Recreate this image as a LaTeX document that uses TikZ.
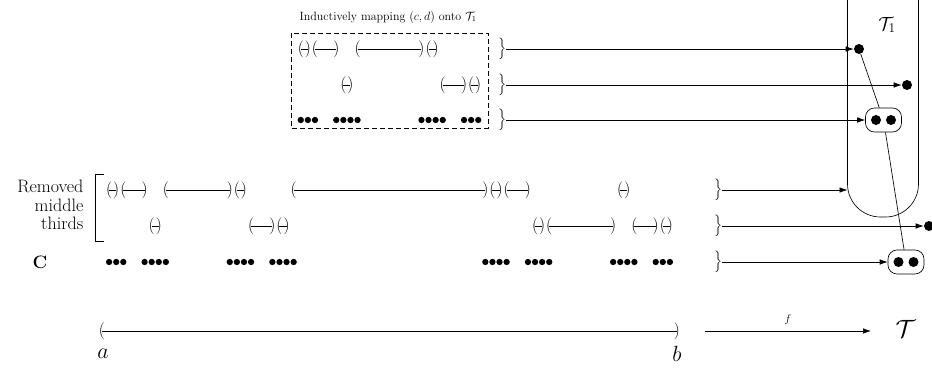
\RequirePackage{fix-cm}
\documentclass[tikz,border=0pt]{standalone}
\usepackage{amsmath}
\usetikzlibrary{arrows.meta}
\newcommand\ivl[3]{\draw (#1,#3) node[par]{(} -- (#2,#3) node[par]{)};}
\begin{document}
\begin{tikzpicture}[x=1pt,y=-1pt, line width=0.65pt,
  par/.style={inner sep=0pt, font=\fontsize{17}{19}\selectfont},
  cdot/.style={circle, fill=black, inner sep=0pt, minimum size=6.3pt},
  bigdot/.style={circle, fill=black, inner sep=0pt, minimum size=10pt},
  pairbox/.style={draw, rounded corners=9pt, minimum width=36pt, minimum height=24pt, inner sep=0pt},
  brace/.style={inner sep=0pt, font=\fontsize{12.5}{14}\selectfont},
  arr/.style={-{Latex[length=8pt,width=5.5pt]}},
  lbl/.style={font=\fontsize{18}{18.5}\selectfont}]
\useasboundingbox (0,0) rectangle (932,372);

% ---------- main Cantor rows ----------
\begin{scope}[xshift=102pt, x=7.0988pt]
  \foreach \p/\q in {1/2,3/6,9/18,19/20,27/54,55/56,57/60,73/74} {\ivl{\p}{\q}{190}}
  \foreach \p/\q in {7/8,21/24,25/26,61/62,63/72,75/78,79/80} {\ivl{\p}{\q}{226}}
  \foreach \k in {1,2,3,6,7,8,9,18,19,20,21,24,25,26,27,54,55,56,57,60,61,62,63,72,73,74,75,78,79,80}
    {\node[cdot] at (\k,262) {};}
\end{scope}

% ---------- inductive copy ----------
\node[font=\fontsize{12}{14}\selectfont, anchor=west] (title) at (296,17) {Inductively mapping $(c,d)$ onto $\mathcal{T}_1$};
\draw[dash pattern=on 5pt off 3pt, line width=0.75pt] (291,33) rectangle (488,128);
\begin{scope}[xshift=293.67pt, x=7.0988pt]
  \foreach \p/\q in {1/2,3/6,9/18,19/20} {\ivl{\p}{\q}{49}}
  \foreach \p/\q in {7/8,21/24,25/26} {\ivl{\p}{\q}{85}}
  \foreach \k in {1,2,3,6,7,8,9,18,19,20,21,24,25,26}
    {\node[cdot] at (\k,120) {};}
\end{scope}

% ---------- labels ----------
\node[lbl, align=right, anchor=east] (rmt) at (87,205) {Removed\\middle\\thirds};
\draw[line width=0.8pt] (104,174) -- (95,174) -- (95,241) -- (104,241);
\node[font=\fontsize{18}{20}\selectfont\bfseries] (C) at (40,262) {C};

% ---------- braces ----------
\node[brace] (bu1) at (502,49) {$\Big\}$};
\node[brace] (bu2) at (502,85) {$\Big\}$};
\node[brace] (bu3) at (502,120) {$\Big\}$};
\node[brace] (bl1) at (718,190) {$\Big\}$};
\node[brace] (bl2) at (718,226) {$\Big\}$};
\node[brace] (bl3) at (718,262) {$\Big\}$};

% ---------- T1 region ----------
\draw[rounded corners=33pt] (847.5,-5) -- (847.5,217) -- (918.5,217) -- (918.5,-5);
\coordinate (uleft) at (847.5,190);
\node[font=\fontsize{19}{22}\selectfont] (T1) at (887,25) {$\mathcal{T}_1$};
\node[bigdot] (d1) at (859,49) {};
\node[bigdot] (d2) at (907,85) {};
\node[pairbox] (b3) at (883.5,120) {};
\node[bigdot] (b3l) at (876,120) {};
\node[bigdot] (b3r) at (891,120) {};
\node[bigdot] (dr) at (929,226) {};
\node[pairbox] (bc) at (906,262) {};
\node[bigdot] (bcl) at (898.5,262) {};
\node[bigdot] (bcr) at (913.5,262) {};

\draw[arr] (bu1.east) -- (d1);
\draw[arr] (bu2.east) -- (d2);
\draw[arr] (bu3.east) -- (b3);
\draw[arr] (bl1.east) -- (uleft);
\draw[arr] (bl2.east) -- (dr);
\draw[arr] (bl3.east) -- (bc);
\draw (d1) -- (b3);
\draw (b3) -- (bc);

% ---------- bottom ----------
\draw (102,331) node[par] (pa) {(} -- (677,331) node[par] (pb) {)};
\node[font=\fontsize{22}{26}\selectfont] (la) at (103,354) {$a$};
\node[font=\fontsize{22}{26}\selectfont] (lb) at (677,354) {$b$};
\coordinate (fs) at (705,331);
\coordinate (fe) at (871,331);
\node[font=\fontsize{25}{30}\selectfont, anchor=west] (T) at (892,329) {$\mathcal{T}$};
\draw[arr] (fs) -- (fe) node[midway, above=3pt, font=\fontsize{11}{13}\selectfont] {$f$};
\end{tikzpicture}
\end{document}
